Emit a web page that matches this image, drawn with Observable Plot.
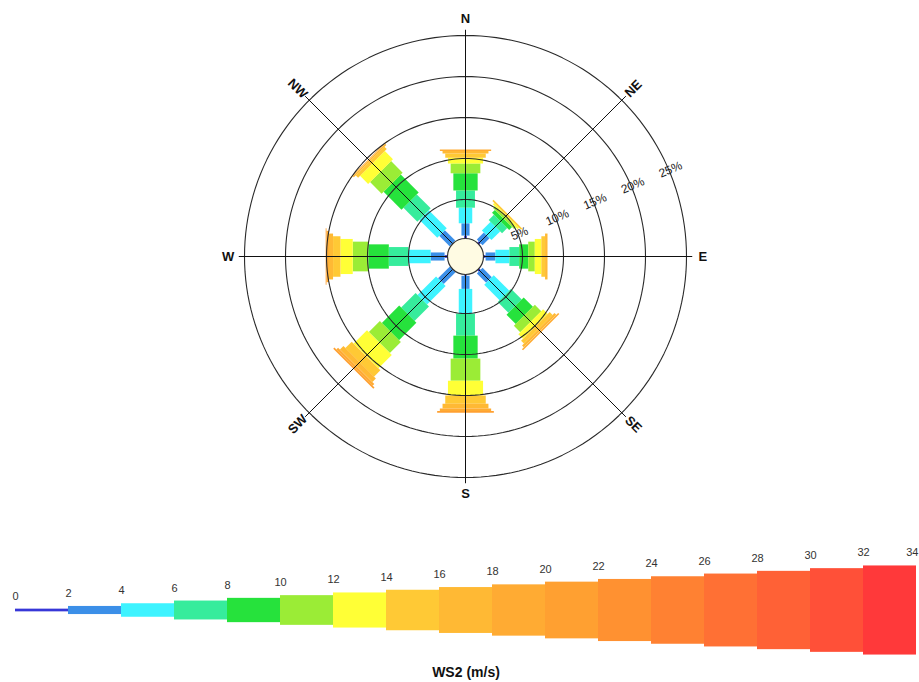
<!DOCTYPE html>
<html>
<head>
<meta charset="utf-8">
<script src="https://cdn.jsdelivr.net/npm/d3@7"></script>
<script src="https://cdn.jsdelivr.net/npm/@observablehq/plot@0.6"></script>
<style>
  html, body { margin: 0; padding: 0; background: #ffffff; }
  #chart svg { display: block; }
</style>
</head>
<body>
<div id="chart"></div>
<script>
// ---------- data ----------
const speedEdges = [0, 2, 4, 6, 8, 10, 12, 14, 16, 18, 20, 22, 24, 26, 28, 30, 32, 34];
const binColors = ["#3737d8", "#3b8fe8", "#3ef3ff", "#36ec9c", "#26e23c", "#9bec36",
                   "#ffff36", "#ffc935", "#ffb934", "#ffab33", "#ffa031", "#ff9131",
                   "#ff8132", "#ff7034", "#ff6136", "#ff5038", "#ff393a"];
const directions = ["N", "NE", "E", "SE", "S", "SW", "W", "NW"];
const bearings = [0, 45, 90, 135, 180, 225, 270, 315];
// frequency (%) per 2 m/s speed class, starting at 0-2 m/s
const freqN  = [0.6, 1.5, 1.9, 2.1, 2.1, 1.2, 0.7, 0.5, 0.3, 0.2];
const freqNE = [0.5, 1.2, 1.5, 0.9, 0.5, 0.3, 0.25, 0.2];
const freqE  = [0.5, 1.2, 1.7, 1.2, 1.1, 0.8, 0.8, 0.45, 0.3];
const freqSE = [0.5, 1.6, 2.65, 1.85, 1.6, 1.1, 0.8, 0.5, 0.3, 0.2];
const freqS  = [0.4, 1.6, 3.0, 2.7, 2.8, 2.7, 1.8, 1.0, 0.6, 0.3, 0.2];
const freqSW = [0.25, 2.05, 3.2, 2.5, 3.0, 1.9, 2.3, 1.1, 0.6, 0.3, 0.2];
const freqW  = [0.6, 1.7, 2.7, 2.4, 2.5, 1.9, 1.5, 0.9, 0.5, 0.3, 0.1];
const freqNW = [0.3, 1.8, 3.1, 2.4, 3.1, 2.0, 1.4, 0.4, 0.2, 0.1];
const ringPcts = [5, 10, 15, 20, 25];
const legendTitle = "WS2 (m/s)";

// ---------- layout ----------
const W = 919, roseH = 530, legH = 152;
const cx = 465, cy = 256;          // rose centre (px)
const pxPerPct = 8.2;              // radial scale
const hubPct = 16 / pxPerPct;      // radial offset of 0 %
const hubR = 18;
const widthScale = d3.scaleLinear().domain([0, 34]).range([0, 91.8]); // speed -> bar width (px)
const font = "'Liberation Sans', Arial, sans-serif";

const freqByDir = {N: freqN, NE: freqNE, E: freqE, SE: freqSE, S: freqS, SW: freqSW, W: freqW, NW: freqNW};
const rad = (deg) => deg * Math.PI / 180;
const px = (r, b) => r * Math.sin(rad(b));
const py = (r, b) => r * Math.cos(rad(b));

// bar segments
const segments = directions.flatMap((d, k) => {
  let cum = 0;
  return freqByDir[d].map((f, i) => {
    const a = cum; cum += f;
    return {dir: d, bin: i, from: a, to: cum, bearing: bearings[k]};
  });
});
// ring outlines
const ringPts = ringPcts.flatMap(p => d3.range(0, 361, 2).map(a => ({ring: p, x: px(hubPct + p, a), y: py(hubPct + p, a)})));
const spokeLen = hubPct + 25 + 0.7;

const rose = Plot.plot({
  width: W, height: roseH,
  margin: 0,
  x: {domain: [-cx / pxPerPct, (W - cx) / pxPerPct], axis: null},
  y: {domain: [-(roseH - cy) / pxPerPct, cy / pxPerPct], axis: null},
  style: {fontFamily: font, background: "white", overflow: "visible"},
  marks: [
    Plot.link(segments, {
      x1: d => px(hubPct + d.from, d.bearing), y1: d => py(hubPct + d.from, d.bearing),
      x2: d => px(hubPct + d.to, d.bearing),   y2: d => py(hubPct + d.to, d.bearing),
      stroke: d => binColors[d.bin],
      strokeWidth: d => widthScale(speedEdges[d.bin] + 1),
      strokeLinecap: "butt"
    }),
    Plot.line(ringPts, {x: "x", y: "y", z: "ring", stroke: "#2a2a2a", strokeWidth: 1.1}),
    Plot.link(bearings, {x1: 0, y1: 0, x2: b => px(spokeLen, b), y2: b => py(spokeLen, b), stroke: "#111", strokeWidth: 1}),
    Plot.dot([0], {x: () => 0, y: () => 0, r: hubR, fill: "#fffbe3", stroke: "#333", strokeWidth: 1.2}),
    Plot.text(ringPcts, {
      x: p => px(hubPct + p + 0.2, 67), y: p => py(hubPct + p + 0.2, 67),
      text: p => `${p}%`, rotate: -23, fontSize: 12, fill: "#222"
    }),
    Plot.text(directions, {
      x: (d, i) => px(hubPct + 27, bearings[i]), y: (d, i) => py(hubPct + 27, bearings[i]),
      text: d => d,
      rotate: (d, i) => (bearings[i] % 90 === 0 ? 0 : (bearings[i] === 45 || bearings[i] === 225 ? -45 : 45)),
      fontSize: 13, fontWeight: "bold", fill: "#111"
    })
  ]
});

// ---------- legend ----------
const legBins = speedEdges.slice(0, -1).map((s, i) => ({lo: s, hi: speedEdges[i + 1], w: widthScale(s + 1), color: binColors[i]}));
const legLabels = speedEdges.map((s, i) => ({v: s, w: widthScale(Math.min(s, 32) + 1), last: i === speedEdges.length - 1}));

const legend = Plot.plot({
  width: W, height: legH,
  margin: 0,
  x: {domain: [0, 34], range: [15, 916], axis: null},
  y: {domain: [80, 80 - legH], range: [0, legH], axis: null},
  style: {fontFamily: font, background: "white", overflow: "visible"},
  marks: [
    Plot.rect(legBins, {x1: "lo", x2: "hi", y1: d => -d.w / 2, y2: d => d.w / 2, fill: "color"}),
    Plot.text(legLabels.filter(d => !d.last), {x: "v", y: d => d.w / 2 + 13, text: d => String(d.v), fontSize: 11, fill: "#333"}),
    Plot.text(legLabels.filter(d => d.last), {x: "v", y: d => d.w / 2 + 13, text: d => String(d.v), fontSize: 11, fill: "#333", textAnchor: "end", dx: 2}),
    Plot.text([legendTitle], {x: () => 17, y: () => -62, text: d => d, fontSize: 14, fontWeight: "bold", fill: "#111"})
  ]
});

const chart = document.getElementById("chart");
chart.appendChild(rose);
chart.appendChild(legend);
</script>
</body>
</html>
